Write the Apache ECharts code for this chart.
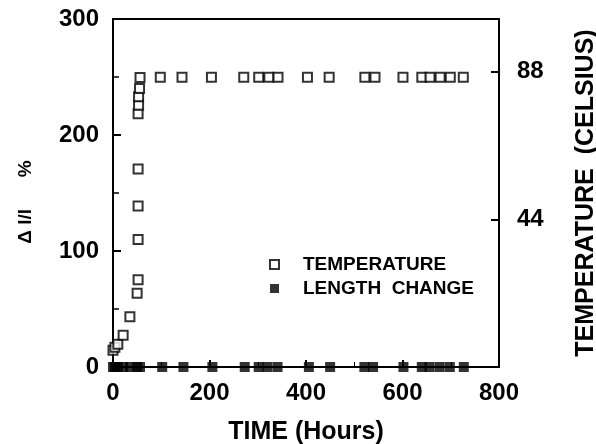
<!DOCTYPE html>
<html><head><meta charset="utf-8">
<script src="https://cdn.jsdelivr.net/npm/echarts@6/dist/echarts.min.js"></script>
<style>html,body{margin:0;padding:0;background:#fff}#c{width:596px;height:444px}</style>
</head><body><div id="c"></div>
<script>
// Temperature (°C, right axis) vs time (hours)
const tempHours = [0, 4, 10, 21, 35, 50, 52, 52, 52, 52, 52, 53, 53, 55, 56, 98, 143, 204, 271, 302, 323, 342, 403, 448, 522, 543, 601, 640, 657, 678, 699, 726];
const tempValues = [5.0, 5.9, 6.8, 9.5, 15.0, 22.0, 26.0, 38.0, 48.0, 59.0, 75.5, 78.0, 80.6, 83.0, 86.3, 86.4, 86.4, 86.4, 86.4, 86.4, 86.4, 86.4, 86.4, 86.4, 86.4, 86.4, 86.4, 86.4, 86.4, 86.4, 86.4, 86.4];
// Length change (Δl/l %, left axis) vs time (hours)
const lenHours = [0, 4, 10, 21, 35, 50, 56, 102, 146, 206, 273, 302, 320, 341, 406, 450, 521, 539, 602, 640, 656, 677, 698, 727];
const lenValues = [0, 0, 0, 0, 0, 0, 0, 0, 0, 0, 0, 0, 0, 0, 0, 0, 0, 0, 0, 0, 0, 0, 0, 0];
const rightTickValues = [44, 88];

const FONT = '"Liberation Sans", Arial, sans-serif';
const chart = echarts.init(document.getElementById('c'), null, {renderer: 'canvas'});
const lbl = {color: '#000', fontFamily: FONT, fontWeight: 'bold', fontSize: 24};
chart.setOption({
  animation: false,
  backgroundColor: '#fff',
  grid: {left: 113, right: 97, top: 19, bottom: 77, show: true, borderColor: '#000', borderWidth: 2,
    containLabel: false, outerBoundsMode: 'none'},
  legend: {
    orient: 'vertical', left: 264, top: 250, itemGap: 5, itemWidth: 9, itemHeight: 9,
    textStyle: {color: '#000', fontFamily: FONT, fontWeight: 'bold', fontSize: 19, padding: [0, 0, 0, 19]},
    data: [{name: 'TEMPERATURE', icon: 'rect'}, {name: 'LENGTH  CHANGE', icon: 'rect'}]
  },
  xAxis: {
    type: 'value', min: 0, max: 800, interval: 200,
    name: 'TIME (Hours)', nameLocation: 'middle', nameGap: 53,
    nameTextStyle: {color: '#000', fontFamily: FONT, fontWeight: 'bold', fontSize: 25},
    axisLine: {lineStyle: {color: '#000', width: 2}},
    axisTick: {inside: true, length: 7, lineStyle: {color: '#000', width: 2}},
    minorTick: {show: true, splitNumber: 2, length: 5, lineStyle: {color: '#000', width: 1}},
    splitLine: {show: false},
    axisLabel: Object.assign({margin: 14}, lbl)
  },
  yAxis: [{
    type: 'value', min: 0, max: 300, interval: 100, position: 'left',
    name: 'Δ l/l      %', nameLocation: 'middle', nameRotate: 90, nameGap: 78,
    nameTextStyle: {color: '#000', fontFamily: FONT, fontWeight: 'bold', fontSize: 19, padding: [0, 18, 0, 0]},
    axisLine: {show: true, lineStyle: {color: '#000', width: 2}},
    axisTick: {inside: true, length: 8, lineStyle: {color: '#000', width: 2}},
    minorTick: {show: true, splitNumber: 2, length: 6, lineStyle: {color: '#000', width: 1.5}},
    splitLine: {show: false},
    axisLabel: Object.assign({margin: 14}, lbl)
  }, {
    type: 'value', min: 0, max: 103.75, interval: 44, position: 'right',
    name: 'TEMPERATURE  (CELSIUS)', nameLocation: 'middle', nameRotate: 90, nameGap: 75,
    nameTextStyle: {color: '#000', fontFamily: FONT, fontWeight: 'bold', fontSize: 25},
    axisLine: {show: true, lineStyle: {color: '#000', width: 2}},
    axisTick: {inside: true, length: 8, lineStyle: {color: '#000', width: 2}},
    splitLine: {show: false},
    axisLabel: Object.assign({margin: 18, showMaxLabel: false, showMinLabel: false,
      formatter: (v) => rightTickValues.indexOf(v) >= 0 ? String(v) : ''}, lbl)
  }],
  series: [{
    name: 'TEMPERATURE', type: 'scatter', yAxisIndex: 1, symbol: 'rect', symbolSize: 9,
    itemStyle: {color: '#fff', borderColor: '#000', borderWidth: 2},
    data: tempHours.map((h, i) => [h, tempValues[i]]), z: 3
  }, {
    name: 'LENGTH  CHANGE', type: 'scatter', yAxisIndex: 0, symbol: 'rect', symbolSize: 10,
    itemStyle: {color: '#000'}, clip: false,
    data: lenHours.map((h, i) => [h, lenValues[i]]), z: 4
  }]
});
</script></body></html>
